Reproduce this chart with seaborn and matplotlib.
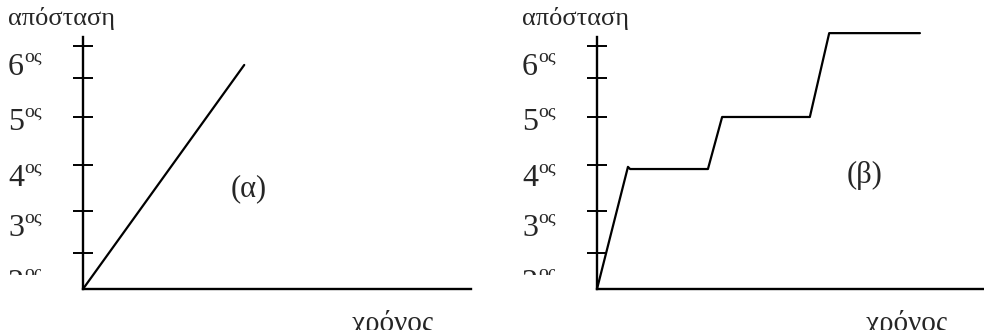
import pandas as pd
import matplotlib
matplotlib.use("Agg")
import matplotlib.pyplot as plt
from matplotlib.patches import Rectangle
import seaborn as sns

W, H = 984, 330

# distance axis (arbitrary units, 0 at the time axis)
Y_TOP = 5.86
X_END = 9.0
TICKS = [0.84, 1.81, 2.88, 4.0, 4.91, 5.65]

# ordinal labels and their baselines in distance units
ORDINALS = ["2", "3", "4", "5", "6"]
ORDINAL_Y = [-0.02, 1.26, 2.42, 3.74, 5.02]

# (α) uniform motion
time_a = [0.0, 3.74]
dist_a = [0.0, 5.21]

# (β) motion with stops
time_b = [0.0, 0.72, 0.77, 2.58, 2.91, 4.95, 5.40, 7.51]
dist_b = [0.0, 2.84, 2.79, 2.79, 4.0, 4.0, 5.95, 5.95]

sns.set_theme(style="white")
plt.rcParams["font.family"] = ["Liberation Serif", "DejaVu Serif"]


def fx(px):
    return px / W


def fy(py):
    return 1 - py / H


fig = plt.figure(figsize=(W / 100, H / 100), dpi=100)
fig.patch.set_facecolor("white")

panels = [
    (83, 471, pd.DataFrame({"t": time_a, "d": dist_a}), "(α)", (249, 189), 393),
    (597, 984, pd.DataFrame({"t": time_b, "d": dist_b}), "(β)", (865, 175), 907),
]

for x0, x1, df, tag, tag_pos, xlabel_x in panels:
    ax = fig.add_axes([fx(x0), fy(289), fx(x1) - fx(x0), (289 - 37) / H])
    sns.lineplot(data=df, x="t", y="d", ax=ax, color="black", linewidth=1.6,
                 sort=False, estimator=None)
    for line in ax.lines:
        line.set_clip_on(False)
    ax.set_xlim(0, X_END)
    ax.set_ylim(0, Y_TOP)
    ax.set_xlabel("")
    ax.set_ylabel("")
    ax.set_facecolor("none")
    ax.set_xticks([])
    ax.set_yticks(TICKS)
    ax.tick_params(axis="y", left=True, direction="inout", length=13.7,
                   width=1.4, color="black", labelleft=False)
    for side in ["top", "right"]:
        ax.spines[side].set_visible(False)
    for side in ["left", "bottom"]:
        ax.spines[side].set_color("black")
        ax.spines[side].set_linewidth(1.7)

    # the lowest ordinal is cut off in the original scan
    clip = Rectangle((0, fy(275)), 1, 1 - fy(275), transform=fig.transFigure)
    for num, yv in zip(ORDINALS, ORDINAL_Y):
        t1 = ax.annotate(num, xy=(0, yv), xycoords=("axes fraction", "data"),
                         xytext=(-54, -1), textcoords="offset points",
                         ha="left", va="baseline", fontsize=23, annotation_clip=False)
        t2 = ax.annotate("ος", xy=(0, yv), xycoords=("axes fraction", "data"),
                         xytext=(-42, 8.5), textcoords="offset points",
                         ha="left", va="baseline", fontsize=14, annotation_clip=False)
        if num == "2":
            for t in (t1, t2):
                t.set_clip_on(True)
                t.set_clip_path(clip)

    fig.text(fx(x0 - 75), fy(25), "απόσταση", ha="left", va="baseline", fontsize=19)
    fig.text(fx(tag_pos[0]), fy(tag_pos[1]), tag, ha="center", va="center", fontsize=22)
    fig.text(fx(xlabel_x), fy(331), "χρόνος", ha="center", va="baseline", fontsize=21)

fig.savefig("out.png", dpi=100, facecolor="white")
